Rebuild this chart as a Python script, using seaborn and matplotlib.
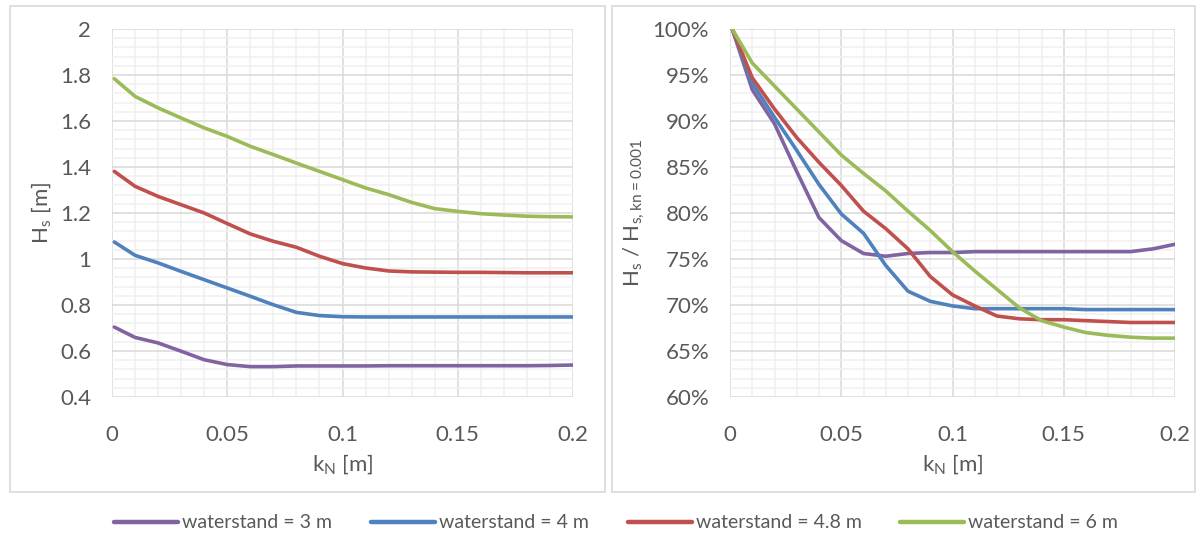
import numpy as np
import pandas as pd
import seaborn as sns
import matplotlib.pyplot as plt
from matplotlib.patches import Rectangle
from matplotlib.ticker import MultipleLocator, PercentFormatter, FuncFormatter

# kN waarden [m]
kn = [0.001, 0.01, 0.02, 0.03, 0.04, 0.05, 0.06, 0.07, 0.08, 0.09, 0.10,
      0.11, 0.12, 0.13, 0.14, 0.15, 0.16, 0.17, 0.18, 0.19, 0.20]

# Hs [m] per waterstand
hs_3 = [0.704, 0.659, 0.635, 0.599, 0.562, 0.541, 0.532, 0.532, 0.535, 0.535, 0.535,
        0.535, 0.536, 0.536, 0.536, 0.536, 0.536, 0.536, 0.536, 0.537, 0.539]
hs_4 = [1.074, 1.016, 0.983, 0.946, 0.910, 0.874, 0.838, 0.801, 0.768, 0.754, 0.749,
        0.748, 0.748, 0.748, 0.748, 0.748, 0.748, 0.748, 0.748, 0.748, 0.748]
hs_48 = [1.381, 1.316, 1.272, 1.236, 1.200, 1.154, 1.109, 1.077, 1.051, 1.012, 0.980,
         0.961, 0.948, 0.944, 0.943, 0.942, 0.942, 0.941, 0.940, 0.940, 0.940]
hs_6 = [1.784, 1.707, 1.657, 1.613, 1.570, 1.533, 1.490, 1.454, 1.417, 1.381, 1.345,
        1.309, 1.280, 1.246, 1.219, 1.207, 1.197, 1.191, 1.186, 1.184, 1.183]

# Hs / Hs,kn=0.001 [%]
r_3 = [100, 93.4, 89.7, 84.5, 79.5, 77.0, 75.6, 75.3, 75.6, 75.7, 75.7,
       75.8, 75.8, 75.8, 75.8, 75.8, 75.8, 75.8, 75.8, 76.1, 76.6]
r_4 = [100, 94.1, 90.4, 86.8, 83.1, 79.9, 77.8, 74.3, 71.5, 70.4, 69.9,
       69.6, 69.6, 69.6, 69.6, 69.6, 69.5, 69.5, 69.5, 69.5, 69.5]
r_48 = [100, 94.7, 91.3, 88.2, 85.5, 83.0, 80.2, 78.3, 76.1, 73.1, 71.1,
        69.9, 68.8, 68.5, 68.4, 68.4, 68.3, 68.2, 68.1, 68.1, 68.1]
r_6 = [100, 96.3, 93.8, 91.3, 88.8, 86.3, 84.3, 82.4, 80.2, 78.1, 75.8,
       73.7, 71.7, 69.7, 68.3, 67.6, 67.0, 66.7, 66.5, 66.4, 66.4]

labels = ['waterstand = 3 m', 'waterstand = 4 m', 'waterstand = 4.8 m', 'waterstand = 6 m']
colors = ['#8064a2', '#4f81bd', '#c0504d', '#9bbb59']

df_hs = pd.concat([pd.DataFrame({'kn': kn, 'val': v, 'serie': l})
                   for v, l in zip([hs_3, hs_4, hs_48, hs_6], labels)])
df_r = pd.concat([pd.DataFrame({'kn': kn, 'val': v, 'serie': l})
                  for v, l in zip([r_3, r_4, r_48, r_6], labels)])

sns.set_theme(style='white')
plt.rcParams['font.family'] = ['Lato', 'DejaVu Sans']
plt.rcParams['mathtext.fontset'] = 'custom'
plt.rcParams['mathtext.rm'] = 'Lato'
tekst = '#595959'
fs = 16

fig = plt.figure(figsize=(12.01, 5.39), dpi=100)
W, H = 1201, 539

# kaders rond de twee grafieken
for x0, x1 in [(10, 605), (612, 1195)]:
    fig.patches.append(Rectangle((x0 / W, 1 - 492 / H), (x1 - x0) / W, (492 - 6) / H,
                                 transform=fig.transFigure, fill=False,
                                 edgecolor='#d9d9d9', linewidth=1.2))

ax1 = fig.add_axes([112 / W, 1 - 397 / H, (573 - 112) / W, (397 - 29) / H])
ax2 = fig.add_axes([730 / W, 1 - 397 / H, (1175 - 730) / W, (397 - 29) / H])

for ax, df in [(ax1, df_hs), (ax2, df_r)]:
    sns.lineplot(data=df, x='kn', y='val', hue='serie', palette=colors, ax=ax,
                 linewidth=2.6, legend=False, solid_joinstyle='round',
                 solid_capstyle='round')
    ax.set_xlim(0, 0.2)
    ax.xaxis.set_major_locator(MultipleLocator(0.05))
    ax.xaxis.set_minor_locator(MultipleLocator(0.01))
    ax.xaxis.set_major_formatter(FuncFormatter(lambda v, p: f'{v:g}'))
    ax.grid(which='major', color='#d9d9d9', linewidth=1.1)
    ax.grid(which='minor', color='#f0f0f0', linewidth=1.1)
    ax.set_axisbelow(True)
    for s in ax.spines.values():
        s.set_visible(False)
    ax.tick_params(which='both', length=0, labelsize=fs, colors=tekst)
    ax.tick_params(axis='y', pad=15)
    ax.tick_params(axis='x', pad=20)
    ax.set_xlabel(r'k$_\mathregular{N}$ [m]', fontsize=fs, color=tekst, labelpad=6)

ax1.set_ylim(0.4, 2)
ax1.yaxis.set_major_locator(MultipleLocator(0.2))
ax1.yaxis.set_minor_locator(MultipleLocator(0.04))
ax1.yaxis.set_major_formatter(FuncFormatter(lambda v, p: f'{v:g}'))
ax1.set_ylabel(r'H$_\mathregular{s}$ [m]', fontsize=fs, color=tekst, labelpad=4)

ax2.set_ylim(60, 100)
ax2.yaxis.set_major_locator(MultipleLocator(5))
ax2.yaxis.set_minor_locator(MultipleLocator(1))
ax2.yaxis.set_major_formatter(PercentFormatter(decimals=0))
ax2.set_ylabel(r'H$_\mathregular{s}$ / H$_\mathregular{s,kn=0.001}$', fontsize=fs,
               color=tekst, labelpad=4)

handles = [plt.Line2D([], [], color=c, linewidth=3.2) for c in colors]
leg = fig.legend(handles, labels, loc='center', bbox_to_anchor=(616 / W, 1 - 523 / H),
                 ncol=4, frameon=False, fontsize=14, handlelength=3.3,
                 columnspacing=2.0, handletextpad=0.2)
for t in leg.get_texts():
    t.set_color(tekst)

fig.savefig('out.png', dpi=100)
